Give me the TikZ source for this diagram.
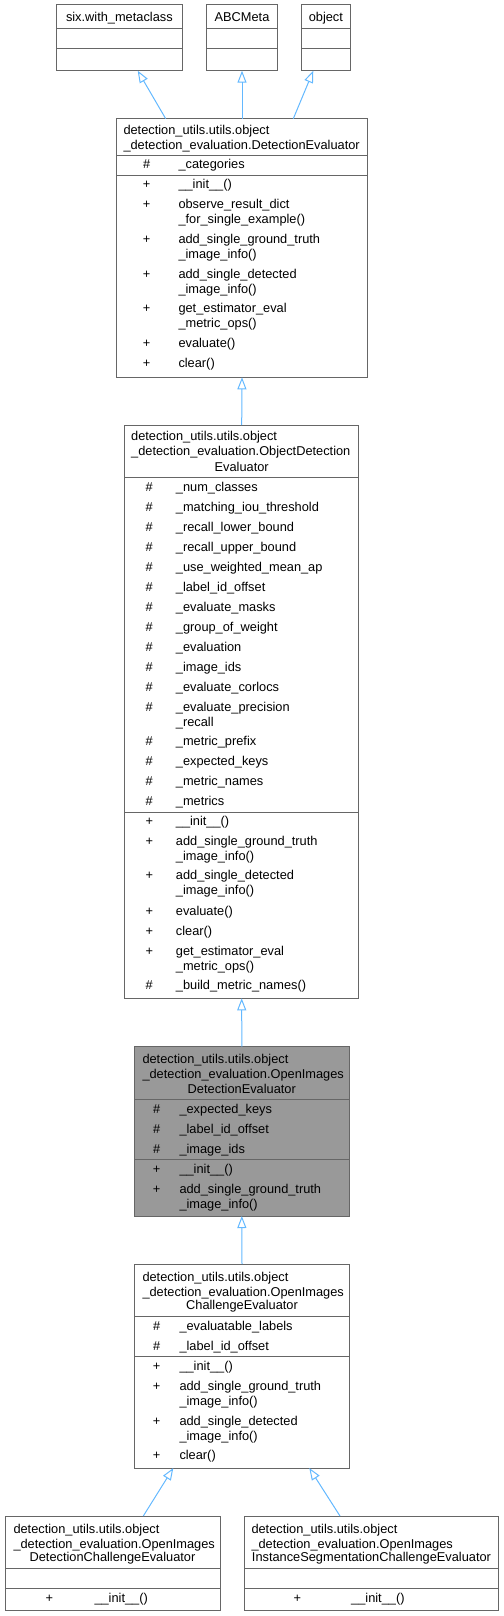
\documentclass[tikz,border=0pt]{standalone}
\usepackage{fontspec}
\setmainfont{Liberation Sans}
\usetikzlibrary{arrows.meta}
\definecolor{edgeBlue}{HTML}{63B8FF}
\definecolor{boxLine}{HTML}{666666}
\definecolor{boxFill}{HTML}{999999}
\tikzset{
  classbox/.style={draw=boxLine, line width=1pt, fill=white, anchor=north west,
    inner sep=0pt, outer sep=0pt},
  divider/.style={draw=boxLine, line width=1pt},
  mtext/.style={font=\fontsize{12.8}{15}\selectfont, inner sep=0pt},
  inherit/.style={draw=edgeBlue, line width=1pt, -{Triangle[open, length=12pt, width=9pt]}},
}
% lines stacked 15pt apart, baseline on the first one
\newcommand{\lines}[1]{\begin{tabular}[t]{@{}l@{}}#1\end{tabular}}
\newcounter{mrow}
% member row: symbol x, name x, row y, symbol, text
\newcommand{\mrow}[5]{%
  \stepcounter{mrow}%
  \node[mtext, anchor=base] (v\arabic{mrow}) at (#1,#3+4.3) {#4};
  \node[mtext, anchor=base west] (n\arabic{mrow}) at (#2,#3+4.3) {\lines{#5}};}

\begin{document}
\begin{tikzpicture}[x=1pt, y=-1pt]
\useasboundingbox (0,0) rectangle (503,1616);

% base classes
\node[classbox, minimum width=125.3pt, minimum height=65.7pt] (six) at (56.7,5) {};
\node[classbox, minimum width=70.6pt, minimum height=65.7pt] (abc) at (206.7,5) {};
\node[classbox, minimum width=49.7pt, minimum height=65.7pt] (obj) at (301,5) {};
\foreach \b in {six, abc, obj}{
  \draw[divider] (\b.west |- 0,28.7) -- (\b.east |- 0,28.7);
  \draw[divider] (\b.west |- 0,48.7) -- (\b.east |- 0,48.7);
}
\node[mtext, anchor=base] (sixname) at (six.north |- 0,21.8) {six.with\_metaclass};
\node[mtext, anchor=base] (abcname) at (abc.north |- 0,21.8) {ABCMeta};
\node[mtext, anchor=base] (objname) at (obj.north |- 0,21.8) {object};

% DetectionEvaluator
\node[classbox, minimum width=250.6pt, minimum height=258.6pt] (deteval) at (116.7,118.7) {};
\draw[divider] (116.7,155.7) -- ++(250.6,0);
\draw[divider] (116.7,175.7) -- ++(250.6,0);
\node[mtext, anchor=base west] (detevalname) at (123.3,134.6)
  {\lines{detection\_utils.utils.object\\\_detection\_evaluation.DetectionEvaluator}};
\mrow{146.7}{178.3}{164.7}{\#}{\_categories}
\foreach \y/\t in {184.3/{\_\_init\_\_()},
    204.3/{observe\_result\_dict\\\_for\_single\_example()},
    239.3/{add\_single\_ground\_truth\\\_image\_info()},
    274.3/{add\_single\_detected\\\_image\_info()},
    308.3/{get\_estimator\_eval\\\_metric\_ops()},
    343.3/{evaluate()}, 363.3/{clear()}}{
  \mrow{146.7}{178.3}{\y}{+}{\t}
}

% ObjectDetectionEvaluator
\node[classbox, minimum width=234pt, minimum height=573.3pt] (odeval) at (124.7,425) {};
\draw[divider] (124.7,477) -- ++(234,0);
\draw[divider] (124.7,812) -- ++(234,0);
\node[mtext, anchor=base west] (odevalname) at (131,440.3)
  {\lines{detection\_utils.utils.object\\\_detection\_evaluation.ObjectDetection}};
\node[mtext, anchor=base] (odevalname2) at (241.7,471) {Evaluator};
\foreach \y/\t in {486.7/{\_num\_classes}, 506.7/{\_matching\_iou\_threshold},
    526.7/{\_recall\_lower\_bound}, 546.7/{\_recall\_upper\_bound},
    566.7/{\_use\_weighted\_mean\_ap}, 586.7/{\_label\_id\_offset},
    606.7/{\_evaluate\_masks}, 626.7/{\_group\_of\_weight},
    646.7/{\_evaluation}, 666.7/{\_image\_ids}, 686.7/{\_evaluate\_corlocs},
    706.7/{\_evaluate\_precision\\\_recall}, 740.7/{\_metric\_prefix},
    760.7/{\_expected\_keys}, 780.7/{\_metric\_names}, 800.7/{\_metrics}}{
  \mrow{149.3}{175.7}{\y}{\#}{\t}
}
\foreach \y/\t in {820.7/{\_\_init\_\_()},
    840.7/{add\_single\_ground\_truth\\\_image\_info()},
    875.3/{add\_single\_detected\\\_image\_info()},
    910.7/{evaluate()}, 930.7/{clear()},
    950.7/{get\_estimator\_eval\\\_metric\_ops()}}{
  \mrow{149.3}{175.7}{\y}{+}{\t}
}
\mrow{149.3}{175.7}{985.3}{\#}{\_build\_metric\_names()}

% OpenImagesDetectionEvaluator
\node[classbox, fill=boxFill, minimum width=215pt, minimum height=169.3pt] (oideval) at (134.3,1046.7) {};
\draw[divider] (134.3,1099.3) -- ++(215,0);
\draw[divider] (134.3,1159.3) -- ++(215,0);
\node[mtext, anchor=base west] (oidevalname) at (142.3,1063)
  {\lines{detection\_utils.utils.object\\\_detection\_evaluation.OpenImages}};
\node[mtext, anchor=base] (oidevalname2) at (241.8,1093.3) {DetectionEvaluator};
\foreach \y/\t in {1108.7/{\_expected\_keys}, 1128.7/{\_label\_id\_offset},
    1148.7/{\_image\_ids}}{
  \mrow{156.7}{179.3}{\y}{\#}{\t}
}
\mrow{156.7}{179.3}{1168.7}{+}{\_\_init\_\_()}
\mrow{156.7}{179.3}{1188.7}{+}{add\_single\_ground\_truth\\\_image\_info()}

% OpenImagesChallengeEvaluator
\node[classbox, minimum width=214.6pt, minimum height=204pt] (oichal) at (134.7,1264) {};
\draw[divider] (134.7,1316.7) -- ++(214.6,0);
\draw[divider] (134.7,1356.7) -- ++(214.6,0);
\node[mtext, anchor=base west] (oichalname) at (142.3,1281)
  {\lines{detection\_utils.utils.object\\\_detection\_evaluation.OpenImages}};
\node[mtext, anchor=base] (oichalname2) at (242,1309.3) {ChallengeEvaluator};
\mrow{156.7}{179.3}{1325.7}{\#}{\_evaluatable\_labels}
\mrow{156.7}{179.3}{1345.7}{\#}{\_label\_id\_offset}
\foreach \y/\t in {1365.7/{\_\_init\_\_()},
    1385.7/{add\_single\_ground\_truth\\\_image\_info()},
    1420.7/{add\_single\_detected\\\_image\_info()}, 1454.7/{clear()}}{
  \mrow{156.7}{179.3}{\y}{+}{\t}
}

% leaf classes
\node[classbox, minimum width=215pt, minimum height=94.7pt] (oidetchal) at (5,1516) {};
\node[classbox, minimum width=253.6pt, minimum height=94.7pt] (oiseg) at (244.7,1516) {};
\foreach \b in {oidetchal, oiseg}{
  \draw[divider] (\b.west |- 0,1568.3) -- (\b.east |- 0,1568.3);
  \draw[divider] (\b.west |- 0,1588.3) -- (\b.east |- 0,1588.3);
}
\node[mtext, anchor=base west] (oidetchalname) at (13.3,1533)
  {\lines{detection\_utils.utils.object\\\_detection\_evaluation.OpenImages}};
\node[mtext, anchor=base] (oidetchalname2) at (112.5,1561.3) {DetectionChallengeEvaluator};
\node[mtext, anchor=base west] (oisegname) at (251.3,1533)
  {\lines{detection\_utils.utils.object\\\_detection\_evaluation.OpenImages}};
\node[mtext, anchor=base] (oisegname2) at (371.5,1561.3) {InstanceSegmentationChallengeEvaluator};
\mrow{49.3}{94.3}{1597.7}{+}{\_\_init\_\_()}
\mrow{297.3}{351}{1597.7}{+}{\_\_init\_\_()}

% inheritance
\draw[inherit] ([xshift=49pt]deteval.north west) -- ([xshift=81pt]six.south west);
\draw[inherit] (abc.south |- deteval.north) -- (abc.south);
\draw[inherit] ([xshift=176.6pt]deteval.north west) -- ([xshift=12.3pt]obj.south west);
\draw[inherit] (odeval.north) -- (deteval.south);
\draw[inherit] (oideval.north) -- (odeval.south);
\draw[inherit] (oichal.north) -- (oideval.south);
\draw[inherit] ([xshift=138.3pt]oidetchal.north west) -- ([xshift=38.6pt]oichal.south west);
\draw[inherit] ([xshift=95.3pt]oiseg.north west) -- ([xshift=174.6pt]oichal.south west);
\end{tikzpicture}
\end{document}
